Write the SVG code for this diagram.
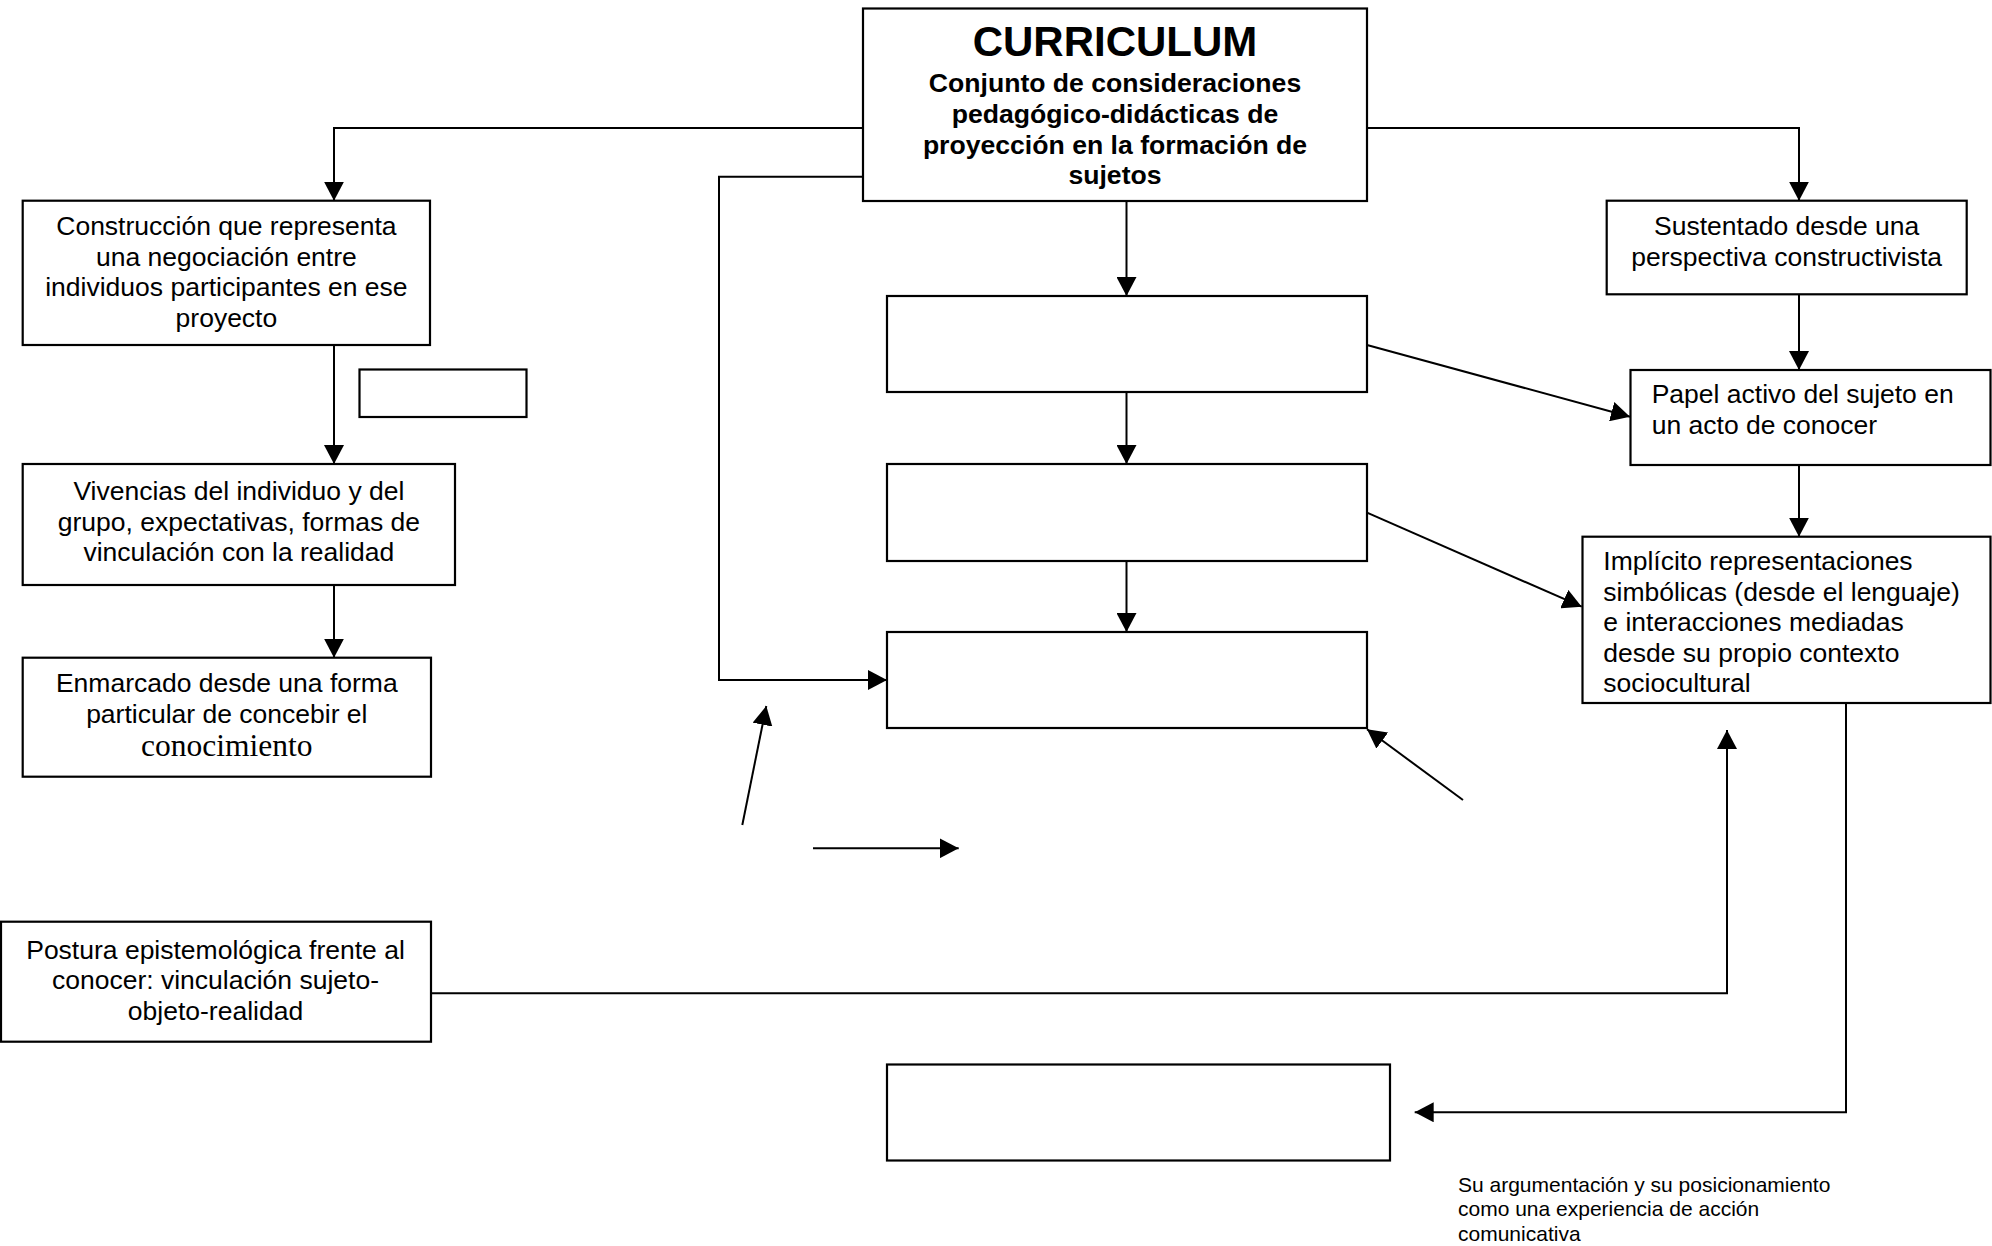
<svg xmlns="http://www.w3.org/2000/svg" width="1992" height="1246" viewBox="0 0 1992 1246">
<defs>
<marker id="ah" markerUnits="userSpaceOnUse" markerWidth="20" markerHeight="20" refX="19" refY="10" orient="auto" viewBox="0 0 20 20">
<path d="M0,0 L19,10 L0,20 z" fill="#000"/>
</marker>
<style>
.box{fill:#fff;stroke:#000;stroke-width:2.2}
.t{font-family:"Liberation Sans",Arial,sans-serif;font-size:26.5px;fill:#000}
.c{text-anchor:middle}
.b{font-weight:bold;font-size:26.6px}
.ser{font-family:"Liberation Serif","Times New Roman",serif;font-size:31.5px}
.con{fill:none;stroke:#000;stroke-width:2}
.arr{marker-end:url(#ah)}
.note{font-family:"Liberation Sans",Arial,sans-serif;font-size:21px;fill:#000}
</style>
</defs>
<rect width="1992" height="1246" fill="#fff"/>

<g id="connectors">
<polyline class="con arr" points="863,128 334,128 334,200.7"/>
<polyline class="con arr" points="863,176.7 719,176.7 719,680 887,680"/>
<polyline class="con arr" points="1367,128 1799,128 1799,200.7"/>
<line class="con arr" x1="1126.5" y1="201" x2="1126.5" y2="296"/>
<line class="con arr" x1="1126.5" y1="392" x2="1126.5" y2="464"/>
<line class="con arr" x1="1126.5" y1="561" x2="1126.5" y2="632"/>
<line class="con arr" x1="1367" y1="345" x2="1630" y2="416.7"/>
<line class="con arr" x1="1367" y1="512.7" x2="1581.7" y2="606.7"/>
<line class="con arr" x1="1799" y1="294" x2="1799" y2="370"/>
<line class="con arr" x1="1799" y1="465" x2="1799" y2="536.7"/>
<line class="con arr" x1="334" y1="345" x2="334" y2="464"/>
<line class="con arr" x1="334" y1="585" x2="334" y2="657.7"/>
<polyline class="con arr" points="431,993.3 1727,993.3 1727,730"/>
<polyline class="con arr" points="1846,703 1846,1112.3 1414.7,1112.3"/>
<line class="con arr" x1="742.3" y1="825" x2="766.3" y2="706"/>
<line class="con arr" x1="813" y1="848.3" x2="958.7" y2="848.3"/>
<line class="con arr" x1="1463" y1="800" x2="1367" y2="729.3"/>
</g>

<g id="curriculum">
<rect class="box" x="863" y="8.5" width="504" height="192.5"/>
<text class="t c" x="1115" y="56" style="font-weight:bold;font-size:42px">CURRICULUM</text>
<text class="t c b" x="1115" y="92">Conjunto de consideraciones</text>
<text class="t c b" x="1115" y="123">pedagógico-didácticas de</text>
<text class="t c b" x="1115" y="154">proyección en la formación de</text>
<text class="t c b" x="1115" y="184">sujetos</text>
</g>

<g id="construccion">
<rect class="box" x="22.7" y="200.7" width="407.3" height="144.3"/>
<text class="t c" x="226.4" y="235">Construcción que representa</text>
<text class="t c" x="226.4" y="265.5">una negociación entre</text>
<text class="t c" x="226.4" y="296">individuos participantes en ese</text>
<text class="t c" x="226.4" y="326.5">proyecto</text>
</g>

<g id="small-empty">
<rect class="box" x="359.5" y="369.5" width="167" height="47.5"/>
</g>

<g id="vivencias">
<rect class="box" x="22.7" y="464" width="432.3" height="121"/>
<text class="t c" x="238.9" y="500">Vivencias del individuo y del</text>
<text class="t c" x="238.9" y="530.5">grupo, expectativas, formas de</text>
<text class="t c" x="238.9" y="561">vinculación con la realidad</text>
</g>

<g id="enmarcado">
<rect class="box" x="22.7" y="657.7" width="408.3" height="119"/>
<text class="t c" x="226.8" y="692">Enmarcado desde una forma</text>
<text class="t c" x="226.8" y="723">particular de concebir el</text>
<text class="ser c" x="226.8" y="756">conocimiento</text>
</g>

<g id="centro1"><rect class="box" x="887" y="296" width="480" height="96"/></g>
<g id="centro2"><rect class="box" x="887" y="464" width="480" height="97"/></g>
<g id="centro3"><rect class="box" x="887" y="632" width="480" height="96"/></g>
<g id="centro4"><rect class="box" x="887" y="1064.5" width="503" height="96"/></g>

<g id="sustentado">
<rect class="box" x="1606.7" y="200.7" width="360" height="93.6"/>
<text class="t c" x="1786.7" y="235">Sustentado desde una</text>
<text class="t c" x="1786.7" y="265.5">perspectiva constructivista</text>
</g>

<g id="papel">
<rect class="box" x="1630.5" y="370" width="360" height="95"/>
<text class="t" x="1651.7" y="403">Papel activo del sujeto en</text>
<text class="t" x="1651.7" y="433.5">un acto de conocer</text>
</g>

<g id="implicito">
<rect class="box" x="1582.5" y="536.7" width="408" height="166.3"/>
<text class="t" x="1603.3" y="570">Implícito representaciones</text>
<text class="t" x="1603.3" y="600.5">simbólicas (desde el lenguaje)</text>
<text class="t" x="1603.3" y="631">e interacciones mediadas</text>
<text class="t" x="1603.3" y="661.5">desde su propio contexto</text>
<text class="t" x="1603.3" y="692">sociocultural</text>
</g>

<g id="postura">
<rect class="box" x="1" y="921.7" width="430" height="120"/>
<text class="t c" x="215.5" y="958.5">Postura epistemológica frente al</text>
<text class="t c" x="215.5" y="989">conocer: vinculación sujeto-</text>
<text class="t c" x="215.5" y="1019.5">objeto-realidad</text>
</g>

<g id="nota">
<text class="note" x="1458" y="1191.5">Su argumentación y su posicionamiento</text>
<text class="note" x="1458" y="1216">como una experiencia de acción</text>
<text class="note" x="1458" y="1240.5">comunicativa</text>
</g>
</svg>
